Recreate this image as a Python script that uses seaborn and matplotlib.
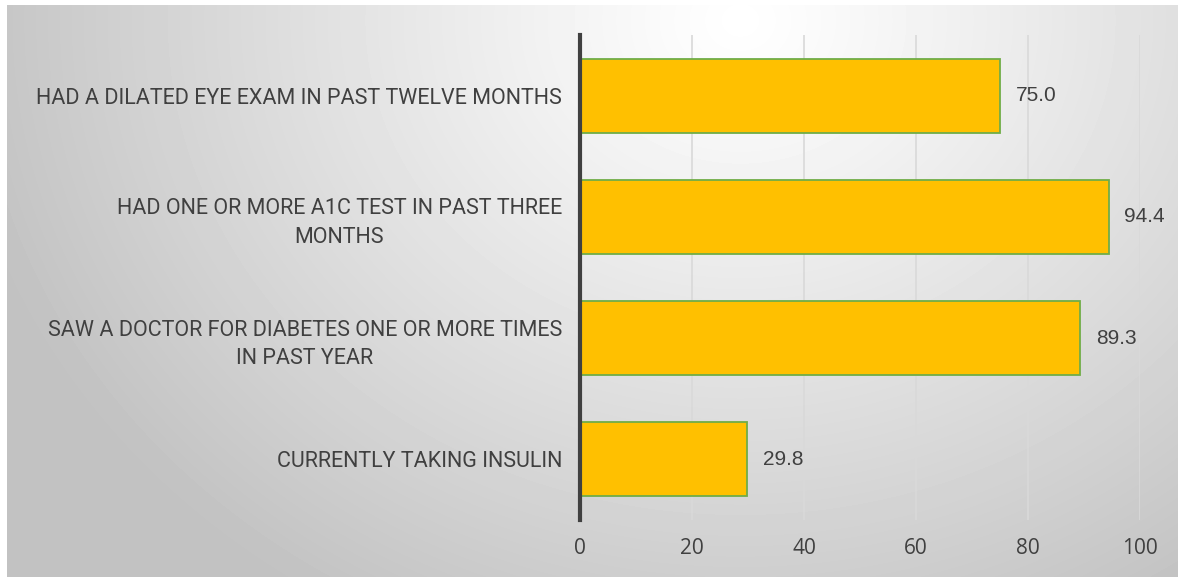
import numpy as np
import pandas as pd
import seaborn as sns
import matplotlib.pyplot as plt

categories = [
    'HAD A DILATED EYE EXAM IN PAST TWELVE MONTHS',
    'HAD ONE OR MORE A1C TEST IN PAST THREE\nMONTHS',
    'SAW A DOCTOR FOR DIABETES ONE OR MORE TIMES\nIN PAST YEAR',
    'CURRENTLY TAKING INSULIN',
]
values = [75.0, 94.4, 89.3, 29.8]
ticks = [0, 20, 40, 60, 80, 100]

df = pd.DataFrame({'measure': categories, 'pct': values})

sns.set_theme(style='white')
label_font = ['Liberation Sans Narrow', 'Roboto', 'DejaVu Sans']
plt.rcParams['font.family'] = label_font

W, H = 1178, 577
fig = plt.figure(figsize=(W / 100, H / 100), dpi=100)
fig.patch.set_facecolor('white')

# radial grey gradient behind the chart
bg = fig.add_axes([7 / W, 0, 1 - 7 / W, 1 - 5 / H], zorder=-5)
yy, xx = np.mgrid[5:H, 7:W]
d = np.sqrt(((xx - 740) / 1.1) ** 2 + ((yy - 20) / 0.95) ** 2)
v = 1 - 0.24 * np.clip(d / 720, 0, 1) ** 1.1
bg.imshow(v, cmap='gray', vmin=0, vmax=1, aspect='auto', interpolation='bilinear')
bg.axis('off')

ax = fig.add_axes([580 / W, 1 - 520 / H, (1140 - 580) / W, (520 - 35) / H])
ax.patch.set_alpha(0)

sns.barplot(data=df, y='measure', x='pct', orient='h', color='#FFC000',
            saturation=1, width=0.61, edgecolor='#70AD47', linewidth=1.3, ax=ax)

ax.set_xlim(0, 100)
ax.set_ylim(3.5, -0.5)
ax.set_xticks(ticks)
ax.set_xticklabels([str(t) for t in ticks], fontsize=15, color='#404040',
                   family=['Open Sans', 'DejaVu Sans'])
ax.tick_params(axis='x', length=0, pad=13)
ax.tick_params(axis='y', length=0, pad=13)
for lab in ax.get_yticklabels():
    lab.set_fontsize(15.5)
    lab.set_color('#404040')
    lab.set_multialignment('center')
    lab.set_linespacing(1.45)
ax.set_xlabel('')
ax.set_ylabel('')

ax.xaxis.grid(True, color='#D9D9D9', linewidth=1.2)
ax.set_axisbelow(True)
for s in ['top', 'right', 'bottom']:
    ax.spines[s].set_visible(False)
ax.spines['left'].set_color('#404040')
ax.spines['left'].set_linewidth(3)
ax.spines['left'].set_zorder(5)

for i, val in enumerate(values):
    ax.text(val + 2.8, i, f'{val:.1f}', va='center', ha='left', fontsize=15,
            color='#404040', family=['Liberation Sans', 'DejaVu Sans'])

fig.savefig('out.png', dpi=100)
